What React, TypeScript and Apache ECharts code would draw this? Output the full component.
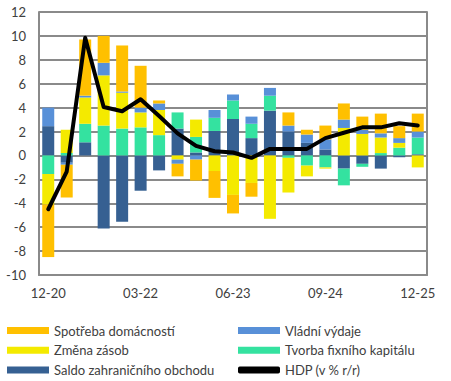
import React, { useEffect, useRef } from "react";
import * as echarts from "echarts";

const categories = [
  "12-20", "03-21", "06-21", "09-21", "12-21", "03-22", "06-22", "09-22", "12-22", "03-23", "06-23",
  "09-23", "12-23", "03-24", "06-24", "09-24", "12-24", "03-25", "06-25", "09-25", "12-25",
];

const saldo = [2.45, -0.6, 1.1, -6.1, -5.55, -2.95, -1.25, 2.25, 0.25, 2.05, 3.05, 1.45, 3.75, 2.0, 1.05, 0.5, -1.1, -0.7, -1.1, -0.15, 0.1];
const tvorba = [-1.55, 0.2, 1.55, 2.5, 2.25, 2.35, 1.7, 1.35, 1.3, 1.1, 1.55, 1.2, 1.25, -0.2, -0.85, -1.0, -1.4, -0.25, 0.2, 0.65, 1.4];
const zmena = [-2.55, 1.95, 2.2, 4.2, 3.0, 1.25, 2.1, -0.35, 1.45, -1.3, -3.3, -2.3, -5.3, -2.9, -0.9, -0.1, 2.3, 1.8, 1.3, 0.4, -1.0];
const vladni = [1.55, -0.17, 0.15, 1.05, 0.1, 0.4, 0.55, -0.35, -0.35, 0.65, 0.5, 0.6, 0.65, 0.5, 0.7, 0.85, 0.7, 0.35, 0.35, 0.4, 0.5];
const spotreba = [-4.4, -2.75, 4.7, 2.25, 3.85, 3.5, 0.25, -1.05, -1.75, -2.25, -1.55, -1.15, 0, 1.1, 0.4, 1.15, 1.35, 1.1, 1.65, 1.0, 1.5];
const hdp = [-4.5, -1.35, 9.85, 4.05, 3.7, 4.7, 3.3, 1.85, 0.8, 0.35, 0.25, -0.2, 0.55, 0.55, 0.55, 1.45, 1.9, 2.35, 2.35, 2.7, 2.5];

const names = {
  spotreba: "Spotřeba domácností",
  vladni: "Vládní výdaje",
  zmena: "Změna zásob",
  tvorba: "Tvorba fixního kapitálu",
  saldo: "Saldo zahraničního obchodu",
  hdp: "HDP (v % r/r)",
};

const colors = {
  spotreba: "#FFC000",
  vladni: "#5890D8",
  zmena: "#F4EA00",
  tvorba: "#34E2A0",
  saldo: "#366092",
  hdp: "#000000",
};

const FONT = "Lato";
const GRAY = "#8a8a8a";
const TEXT = "#404040";

export default function App() {
  const ref = useRef<HTMLDivElement>(null);
  useEffect(() => {
    if (!ref.current) return;
    const chart = echarts.init(ref.current, undefined, { renderer: "svg" });
    const bar = (key: keyof typeof names, data: number[]) => ({
      type: "bar",
      name: names[key],
      stack: "total",
      data,
      barWidth: 12,
      itemStyle: { color: colors[key] },
    });
    const legendCommon = {
      orient: "vertical",
      top: 324,
      padding: 0,
      itemWidth: 42,
      itemHeight: 7,
      itemGap: 6.7,
      textStyle: { fontFamily: FONT, fontSize: 13, color: TEXT, lineHeight: 13 },
    };
    chart.setOption({
      animation: false,
      textStyle: { fontFamily: FONT },
      grid: { left: 39, top: 12, width: 388, height: 263, containLabel: false },
      xAxis: {
        type: "category",
        data: categories,
        axisLine: { onZero: false, lineStyle: { color: GRAY, width: 2 } },
        axisTick: { show: false },
        axisLabel: { interval: 4, margin: 11, fontSize: 13, color: TEXT, fontFamily: FONT },
        splitLine: { show: false },
      },
      yAxis: [
        {
          type: "value",
          min: -10,
          max: 12,
          interval: 2,
          axisLine: { show: true, lineStyle: { color: GRAY, width: 2 } },
          axisTick: { show: false },
          splitLine: { show: true, lineStyle: { color: GRAY, width: 2 } },
          axisLabel: { margin: 13, fontSize: 13, color: TEXT, fontFamily: FONT },
        },
        {
          type: "value",
          position: "right",
          min: -10,
          max: 12,
          interval: 2,
          axisLine: { show: true, lineStyle: { color: GRAY, width: 2 } },
          axisTick: { show: false },
          splitLine: { show: false },
          axisLabel: { show: false },
        },
      ],
      legend: [
        {
          ...legendCommon,
          left: 7,
          data: [
            { name: names.spotreba, icon: "rect" },
            { name: names.zmena, icon: "rect" },
            { name: names.saldo, icon: "rect" },
          ],
        },
        {
          ...legendCommon,
          left: 238,
          data: [
            { name: names.vladni, icon: "rect" },
            { name: names.tvorba, icon: "rect" },
            { name: names.hdp, icon: "roundRect", itemStyle: { color: "#000" } },
          ],
        },
      ],
      series: [
        bar("saldo", saldo),
        bar("tvorba", tvorba),
        bar("zmena", zmena),
        bar("vladni", vladni),
        bar("spotreba", spotreba),
        {
          type: "line",
          name: names.hdp,
          data: hdp,
          symbol: "none",
          z: 5,
          itemStyle: { color: "#000" },
          lineStyle: { color: "#000", width: 4, join: "round", cap: "round" },
        },
      ],
    });
    return () => chart.dispose();
  }, []);
  return <div ref={ref} style={{ position: "absolute", left: 0, top: 0, width: 451, height: 381 }} />;
}
